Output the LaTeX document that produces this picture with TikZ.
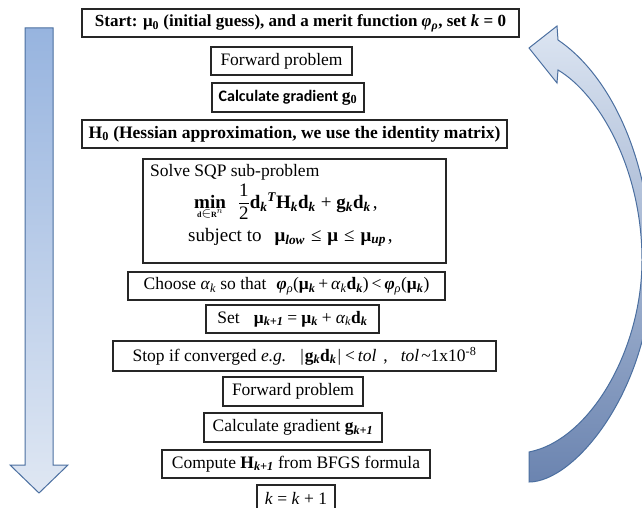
\documentclass[tikz,border=0pt]{standalone}
\usepackage{fontspec}
\setmainfont{Liberation Serif}
\newfontfamily\carlito{Carlito}
\newcommand{\tf}{\fontsize{17.5}{20}\selectfont}
\newcommand{\mf}{\fontsize{19}{22}\selectfont}
\newcommand{\vb}[1]{\textbf{#1}}
\newcommand{\kk}{\textsubscript{\bfseries\itshape k}}
\newcommand{\kp}{\textsubscript{\bfseries\itshape k+1}}
\newcommand{\gap}[1]{\hspace{#1pt}}
\definecolor{arrowedge}{HTML}{4B6FA0}
\definecolor{leftTop}{HTML}{97B4DF}
\definecolor{leftBot}{HTML}{DFE7F3}
\definecolor{rightTop}{HTML}{DCE5F2}
\definecolor{rightMid}{HTML}{BCCBE3}
\definecolor{rightBot}{HTML}{6B84B0}
\begin{document}
\begin{tikzpicture}[x=1pt,y=-1pt,
  flowbox/.style={draw=black!85, line width=1.3pt, fill=white, inner sep=0pt, font=\tf, text=black},
  plaintext/.style={inner sep=0pt, font=\tf, text=black},
  blockarrow/.style={draw=arrowedge, line width=1pt}]
\useasboundingbox (0,0) rectangle (642,508);
\clip (0,0) rectangle (642,508);
% left downward block arrow
\shade[blockarrow, top color=leftTop, bottom color=leftBot]
  (25,28) -- (53,28) -- (53,465) -- (68,465) -- (39,493) -- (10,465) -- (25,465) -- cycle;
% right curved block arrow
\shade[blockarrow, top color=rightTop, middle color=rightMid, bottom color=rightBot]
  (558,40) -- (557,26) -- (529,48) -- (557,83) -- (558,70)
  .. controls (600,95) and (642,170) .. (642,260)
  .. controls (642,350) and (590,440) .. (529,452)
  -- (529,482)
  .. controls (575,482) and (650,390) .. (652,270)
  .. controls (652,160) and (610,75) .. (558,40) -- cycle;
% boxes
\node[flowbox, minimum width=437pt, minimum height=28pt, font=\fontsize{17}{20}\selectfont] (start) at (300.5,23)
  {\textbf{Start: μ\textsubscript{0} (initial guess), and a merit function \textit{φ}\textsubscript{\textit{ρ}}, set \textit{k} = 0}\gap{6}};
\node[flowbox, minimum width=141pt, minimum height=28pt] (fwd1) at (281.5,61) {Forward problem};
\node[flowbox, minimum width=152pt, minimum height=29pt] (grad0) at (288,97.5)
  {{\carlito\bfseries\fontsize{16}{18}\selectfont Calculate gradient }\vb{g}\textsubscript{\bfseries 0}};
\node[flowbox, minimum width=425pt, minimum height=28pt] (hess0) at (294.5,134)
  {\textbf{H\textsubscript{0} (Hessian approximation, we use the identity matrix)}};
\node[flowbox, line width=2.3pt, minimum width=303pt, minimum height=104pt] (sqp) at (294.5,211) {};
\node[plaintext, anchor=base west] (sqptitle) at (150,176) {Solve SQP sub-problem};
\node[plaintext, anchor=base west, font=\mf] (sqpobj) at (194,208)
  {$\mathop{\mbox{\bfseries min}}\limits_{\mbox{\fontsize{8}{8}\selectfont\bfseries d}\in\mbox{\fontsize{8}{8}\selectfont\bfseries R}^{n}}$\gap{12}$\displaystyle\frac{\mbox{1}}{\mbox{2}}$\vb{d}\kk\textsuperscript{\bfseries\itshape T}\vb{H}\kk\vb{d}\kk\gap{5}+\gap{5}\vb{g}\kk\vb{d}\kk\gap{2},};
\node[plaintext, anchor=base west, font=\mf] (sqpsub) at (188,241)
  {subject to\gap{13}\vb{μ}\textsubscript{\bfseries\itshape low}\gap{6}≤\gap{6}\vb{μ}\gap{6}≤\gap{6}\vb{μ}\textsubscript{\bfseries\itshape up}\gap{2},};
\node[flowbox, minimum width=317pt, minimum height=28pt] (choose) at (286.5,286)
  {Choose \textit{α}\textsubscript{\itshape k} so that\gap{10}\textbf{\textit{φ}}\textsubscript{\textit{ρ}}(\vb{μ}\kk\,+\,\textit{α}\textsubscript{\itshape k}\vb{d}\kk)\,<\,\textbf{\textit{φ}}\textsubscript{\textit{ρ}}(\vb{μ}\kk)};
\node[flowbox, minimum width=173pt, minimum height=28pt] (setbox) at (292.5,319)
  {Set\gap{14}\vb{μ}\kp\gap{4}=\gap{4}\vb{μ}\kk\gap{4}+\gap{4}\textit{α}\textsubscript{\itshape k}\vb{d}\kk};
\node[flowbox, minimum width=383pt, minimum height=30pt] (stop) at (304.5,356)
  {Stop if converged \textit{e.g.}\gap{14}|\gap{1}\vb{g}\kk\vb{d}\kk\gap{1}|\gap{4}<\gap{3}\textit{tol}\gap{7},\gap{13}\textit{tol}\gap{2}\textasciitilde1x10\textsuperscript{-8}};
\node[flowbox, minimum width=140pt, minimum height=29pt] (fwd2) at (293,391.5) {Forward problem};
\node[flowbox, minimum width=178pt, minimum height=29pt] (gradk) at (293,427.5)
  {Calculate gradient \vb{g}\kp};
\node[flowbox, minimum width=268pt, minimum height=28pt] (hessk) at (296,464)
  {Compute \vb{H}\kp\ from BFGS formula};
\node[flowbox, minimum width=78pt, minimum height=26pt] (kinc) at (296,498)
  {\textit{k} = \textit{k} + 1};
\end{tikzpicture}
\end{document}
